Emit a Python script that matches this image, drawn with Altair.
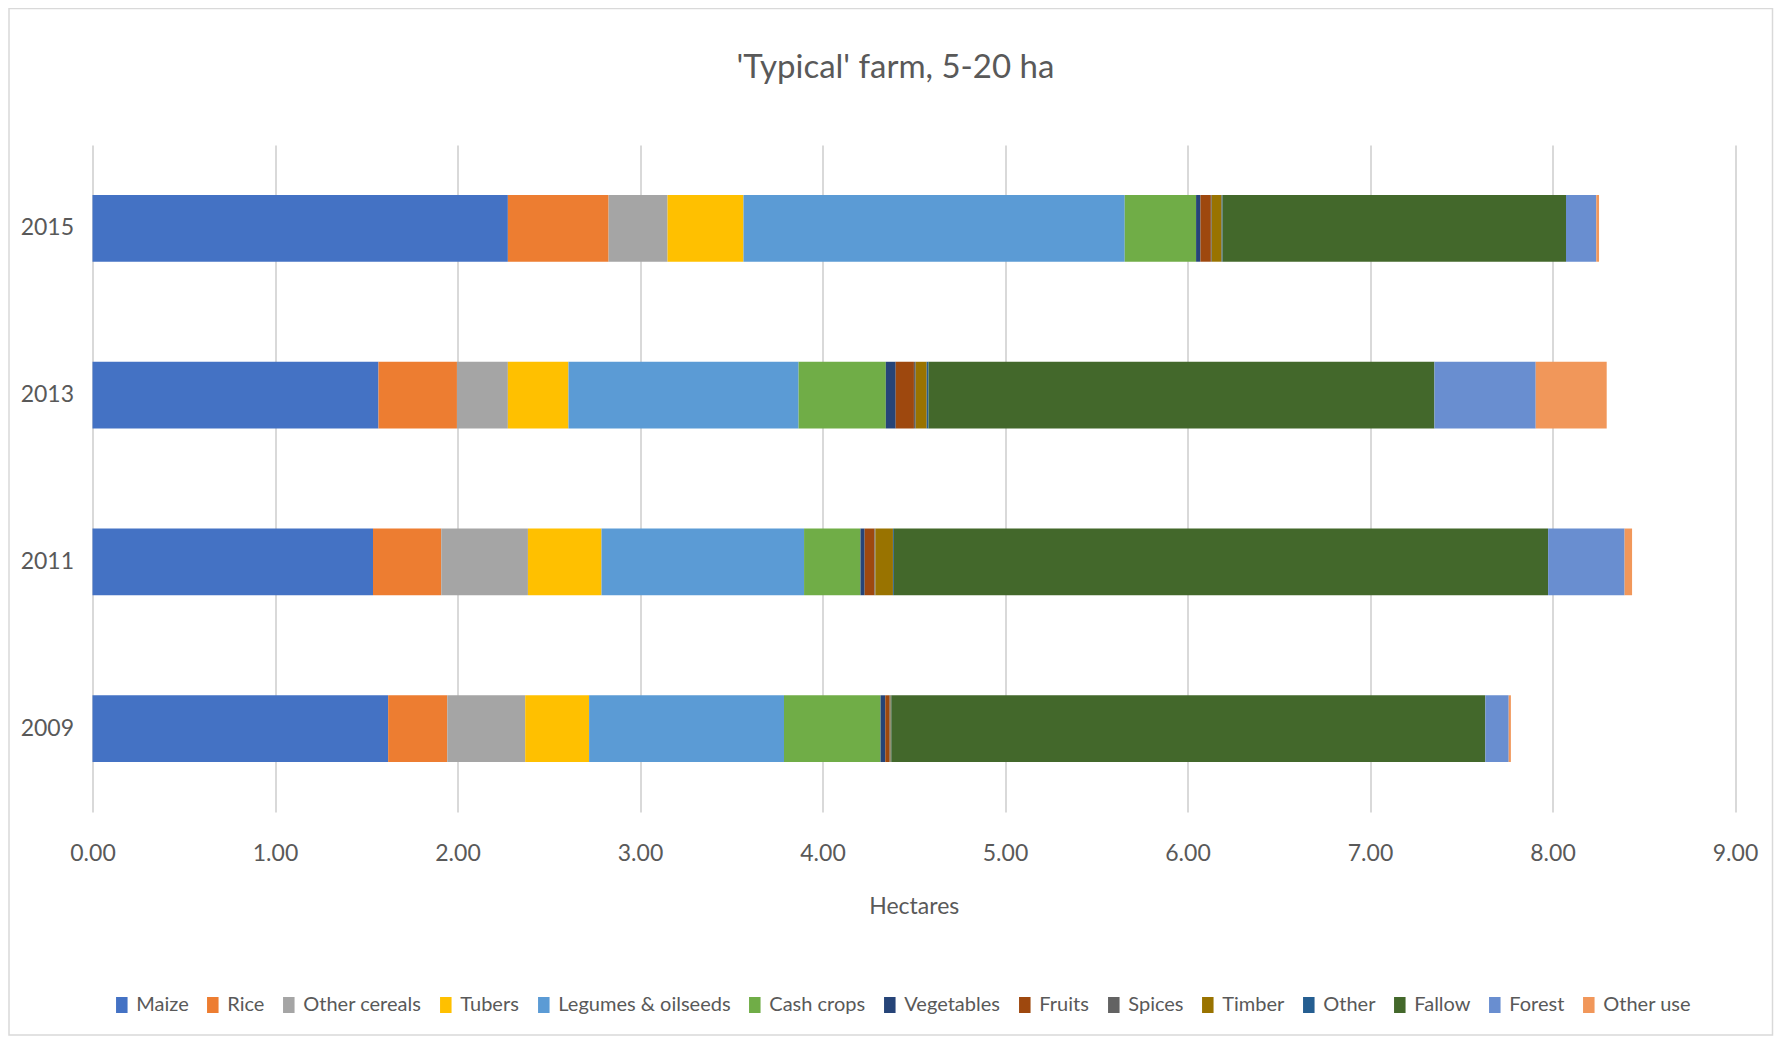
import altair as alt
import pandas as pd

# ---------------- data ----------------
years = ["2015", "2013", "2011", "2009"]
categories = ["Maize", "Rice", "Other cereals", "Tubers", "Legumes & oilseeds",
              "Cash crops", "Vegetables", "Fruits", "Spices", "Timber", "Other",
              "Fallow", "Forest", "Other use"]
colors = ["#4472C4", "#ED7D31", "#A5A5A5", "#FFC000", "#5B9BD5", "#70AD47",
          "#264478", "#9E480E", "#636363", "#997300", "#255E91", "#43682B",
          "#698ED0", "#F1975A"]

maize = [2.276, 1.567, 1.537, 1.620]
rice = [0.552, 0.430, 0.374, 0.324]
other_cereals = [0.323, 0.279, 0.475, 0.427]
tubers = [0.416, 0.332, 0.403, 0.350]
legumes_oilseeds = [2.089, 1.261, 1.110, 1.068]
cash_crops = [0.391, 0.478, 0.309, 0.529]
vegetables = [0.024, 0.054, 0.023, 0.026]
fruits = [0.057, 0.100, 0.054, 0.024]
spices = [0.005, 0.010, 0.005, 0.003]
timber = [0.054, 0.060, 0.096, 0.003]
other = [0.005, 0.010, 0.005, 0.003]
fallow = [1.882, 2.772, 3.585, 3.255]
forest = [0.166, 0.555, 0.419, 0.128]
other_use = [0.015, 0.389, 0.041, 0.012]

x_ticks = [0, 1, 2, 3, 4, 5, 6, 7, 8, 9]
title_text = "'Typical' farm, 5-20 ha"

series = [maize, rice, other_cereals, tubers, legumes_oilseeds, cash_crops,
          vegetables, fruits, spices, timber, other, fallow, forest, other_use]

rows = []
for ci, (cat, vals) in enumerate(zip(categories, series)):
    for yr, v in zip(years, vals):
        rows.append({"year": yr, "category": cat, "hectares": v, "order": ci})
df = pd.DataFrame(rows)

FONT = "Lato, sans-serif"
TXT = "#595959"

bars = alt.Chart(df).mark_bar().encode(
    x=alt.X("hectares:Q", stack="zero",
            scale=alt.Scale(domain=[0, 9], nice=False),
            axis=alt.Axis(values=x_ticks, format=".2f", title="Hectares",
                          grid=True, gridColor="#D9D9D9", gridWidth=2,
                          domain=False, ticks=False, labelPadding=30,
                          labelFlush=False,
                          labelFontSize=23, titleFontSize=23, titlePadding=30,
                          labelFont=FONT, titleFont=FONT,
                          labelColor=TXT, titleColor=TXT,
                          titleFontWeight="normal")),
    y=alt.Y("year:N", sort=years,
            scale=alt.Scale(paddingInner=0.6, paddingOuter=0.3),
            axis=alt.Axis(title=None, domain=False, ticks=False, grid=False,
                          labelPadding=19, labelFontSize=23, labelFont=FONT,
                          labelColor=TXT)),
    color=alt.Color("category:N", title=None,
                    scale=alt.Scale(domain=categories, range=colors),
                    legend=alt.Legend(orient="none", legendX=19.3, legendY=850,
                                      direction="horizontal", columns=14,
                                      symbolType="M-0.72,-1H0.72V1H-0.72Z",
                                      symbolSize=256,
                                      symbolStrokeWidth=0,
                                      labelFontSize=20, labelFont=FONT,
                                      labelColor=TXT, labelLimit=400,
                                      columnPadding=14, labelOffset=4.5)),
    order=alt.Order("order:Q", sort="ascending"),
)

border = alt.Chart(pd.DataFrame({"a": [0]})).mark_rect(
    fillOpacity=0, stroke="#D9D9D9", strokeWidth=1.5
).encode(
    x=alt.value(-83.5), x2=alt.value(1680),
    y=alt.value(-136.5), y2=alt.value(890),
)

title = alt.Chart(pd.DataFrame({"t": [title_text]})).mark_text(
    font=FONT, fontSize=33, color=TXT, align="center", baseline="alphabetic"
).encode(
    text="t:N", x=alt.value(803), y=alt.value(-67),
)

chart = alt.layer(border, bars, title).properties(
    width=1642.5,
    height=667,
    padding={"left": 84.5, "top": 137, "right": 40, "bottom": 228},
    autosize=alt.AutoSizeParams(type="none"),
).configure_view(stroke=None)

chart.save("out.html", embed_options={"renderer": "svg", "actions": False})
